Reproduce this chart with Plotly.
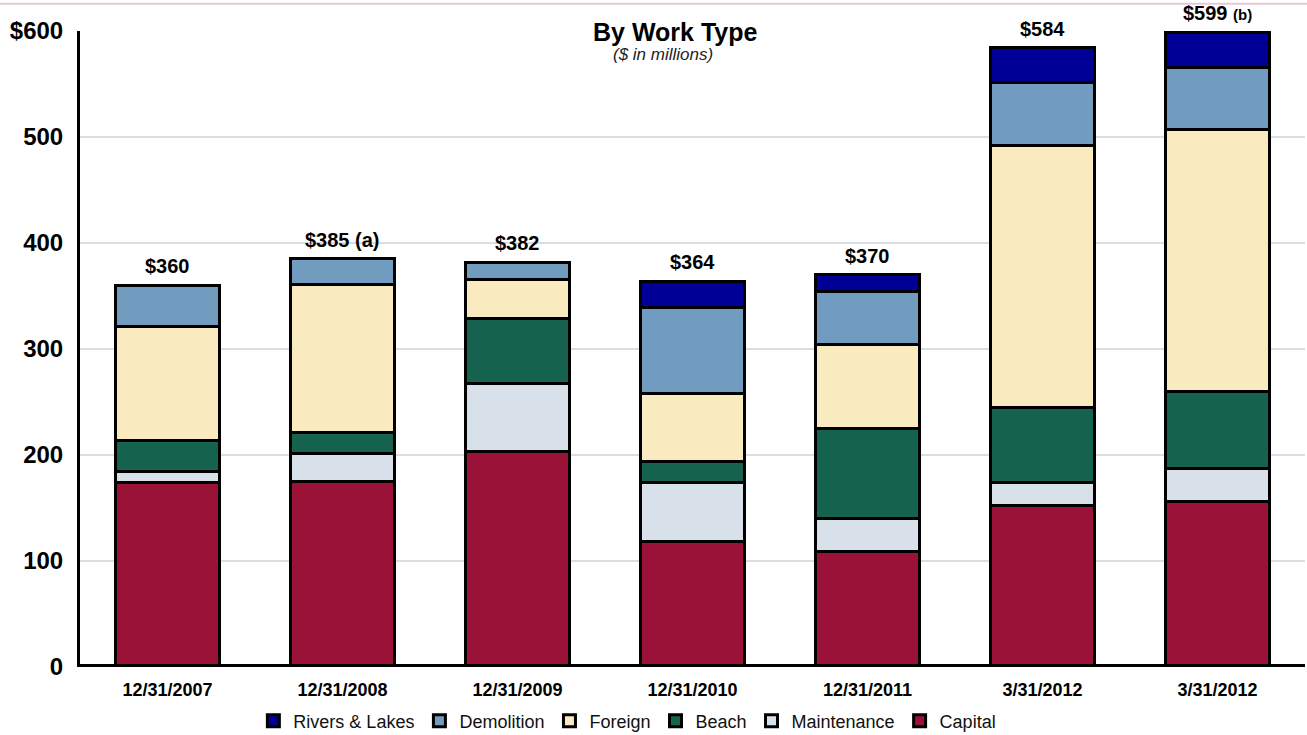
import plotly.graph_objects as go

categories = ["12/31/2007", "12/31/2008", "12/31/2009", "12/31/2010", "12/31/2011", "3/31/2012", "3/31/2012"]
capital = [174, 175, 203, 118, 109, 152, 156]
maintenance = [10, 26, 64, 56, 31, 22, 31]
beach = [30, 20, 62, 20, 85, 71, 73]
foreign = [107, 140, 37, 64, 79, 247, 247]
demolition = [39, 24, 16, 81, 50, 59, 59]
rivers = [0, 0, 0, 25, 16, 33, 33]
totals = [360, 385, 382, 364, 370, 584, 599]
total_labels = ["$360", "$385 (a)", "$382", "$364", "$370", "$584",
                "$599 <span style='font-size:15px'>(b)</span>"]
y_ticks = [0, 100, 200, 300, 400, 500, 600]
y_ticktext = ["0", "100", "200", "300", "400", "500", "$600"]

series = [
    ("Capital", capital, "#9B1238"),
    ("Maintenance", maintenance, "#D8E1EA"),
    ("Beach", beach, "#15624F"),
    ("Foreign", foreign, "#F9EABF"),
    ("Demolition", demolition, "#719CC0"),
    ("Rivers & Lakes", rivers, "#000096"),
]

FONT = "Liberation Sans, Arial"
xs = list(range(len(categories)))
fig = go.Figure()
for name, vals, color in series:
    fig.add_trace(go.Bar(
        x=xs, y=vals, name=name, width=0.59,
        marker=dict(color=color, line=dict(color="black", width=3)),
    ))

for i, (t, lab) in enumerate(zip(totals, total_labels)):
    fig.add_annotation(x=i, y=t, xref="x", yref="y", text=f"<b>{lab}</b>", showarrow=False,
                       yanchor="bottom", yshift=6,
                       font=dict(family=FONT, size=20, color="black"))

fig.add_annotation(x=0.486, y=1.0, xref="paper", yref="paper", text="<b>By Work Type</b>",
                   showarrow=False, yanchor="middle", yshift=-1,
                   font=dict(family=FONT, size=25, color="black"))
fig.add_annotation(x=0.476, y=1.0, xref="paper", yref="paper", text="<i>($ in millions)</i>",
                   showarrow=False, yanchor="middle", yshift=-23,
                   font=dict(family=FONT, size=17, color="#222222"))

fig.update_layout(
    barmode="stack",
    width=1307, height=735,
    margin=dict(l=80, r=2, t=31, b=68, autoexpand=False),
    paper_bgcolor="white", plot_bgcolor="white",
    font=dict(family=FONT, color="black"),
    showlegend=True,
    legend=dict(orientation="h", x=0.48, xanchor="center", xref="container",
                y=0.019, yanchor="middle", yref="container",
                traceorder="reversed", font=dict(size=18, color="#111111"),
                itemwidth=30),
    xaxis=dict(range=[-0.5, 6.5], tickvals=xs, ticktext=[f"<b>{c}</b>" for c in categories],
               tickfont=dict(size=18), showgrid=False, showline=False, zeroline=False,
               ticks="outside", ticklen=6, tickcolor="rgba(0,0,0,0)"),
    yaxis=dict(range=[0, 600], tickvals=y_ticks, ticktext=[f"<b>{t}</b>" for t in y_ticktext],
               tickfont=dict(size=24), showgrid=True, gridcolor="#D9DEE2", gridwidth=2,
               showline=True, linecolor="black", linewidth=3, zeroline=False,
               ticks="outside", ticklen=9, tickcolor="rgba(0,0,0,0)"),
)

# thick baseline
fig.add_shape(type="line", xref="paper", yref="y", x0=0, x1=1, y0=0, y1=0,
              line=dict(color="black", width=6), layer="above")
# thin pink line at top of page
fig.add_shape(type="line", xref="paper", yref="paper", x0=-0.07, x1=1.01, y0=1.043, y1=1.043,
              line=dict(color="#E6C6DA", width=2))

fig.write_html("out.html")
